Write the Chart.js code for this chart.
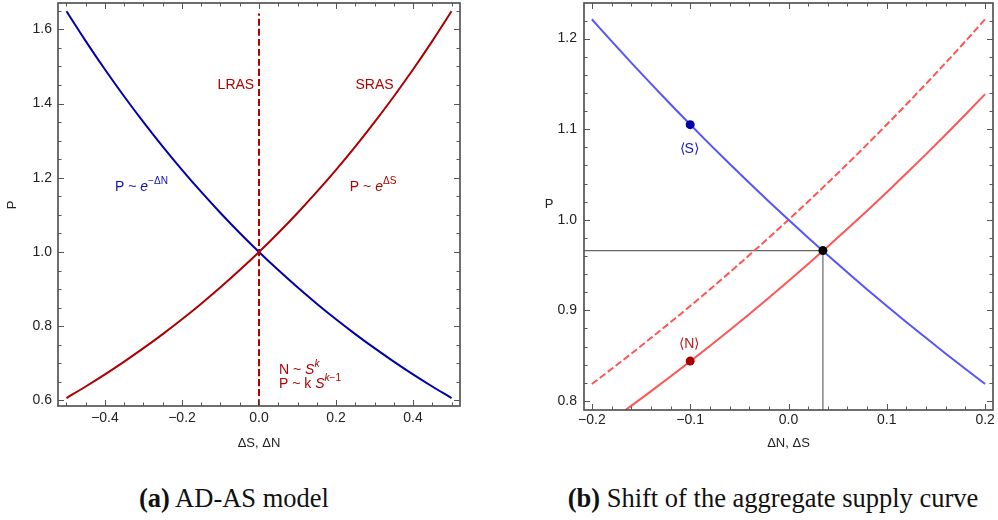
<!DOCTYPE html>
<html>
<head>
<meta charset="utf-8">
<script src="https://cdn.jsdelivr.net/npm/chart.js@4.4.1/dist/chart.umd.min.js"></script>
<style>
  body { margin: 0; background: #fff; width: 998px; height: 520px; overflow: hidden; position: relative; }
  .box { position: absolute; }
  .cap { position: absolute; font-family: "Liberation Serif", "Times New Roman", serif; font-size: 26.5px; line-height: 26px;
         white-space: nowrap; transform: translateX(-50%); color: #111; }
</style>
</head>
<body>
<div class="box" style="left:0;top:0;width:480px;height:460px"><canvas id="chartA"></canvas></div>
<div class="box" style="left:500px;top:-2px;width:498px;height:462px"><canvas id="chartB"></canvas></div>
<div class="cap" style="left:234px;top:485px"><b>(a)</b> AD-AS model</div>
<div class="cap" style="left:773px;top:485px"><b>(b)</b> Shift of the aggregate supply curve</div>

<script>
// ---- panel (a): AD-AS model ----
const deltaA = [-0.5, -0.45, -0.4, -0.35, -0.3, -0.25, -0.2, -0.15, -0.1, -0.05, 0,
                0.05, 0.1, 0.15, 0.2, 0.25, 0.3, 0.35, 0.4, 0.45, 0.5];
const srasA = [0.6065, 0.6376, 0.6703, 0.7047, 0.7408, 0.7788, 0.8187, 0.8607, 0.9048, 0.9512, 1.0,
               1.0513, 1.1052, 1.1618, 1.2214, 1.2840, 1.3499, 1.4191, 1.4918, 1.5683, 1.6487];
const adA = [1.6487, 1.5683, 1.4918, 1.4191, 1.3499, 1.2840, 1.2214, 1.1618, 1.1052, 1.0513, 1.0,
             0.9512, 0.9048, 0.8607, 0.8187, 0.7788, 0.7408, 0.7047, 0.6703, 0.6376, 0.6065];
const lrasX = [0, 0];
const lrasP = [0.585, 1.643];
const xTicksA = [-0.4, -0.2, 0, 0.2, 0.4];
const yTicksA = [0.6, 0.8, 1.0, 1.2, 1.4, 1.6];

// ---- panel (b): shift of the aggregate supply curve ----
const deltaB = [-0.2, -0.18, -0.16, -0.14, -0.12, -0.1, -0.08, -0.06, -0.04, -0.02, 0,
                0.02, 0.04, 0.06, 0.08, 0.1, 0.12, 0.14, 0.16, 0.18, 0.2];
const demandB = [1.2214, 1.1972, 1.1735, 1.1503, 1.1275, 1.1052, 1.0833, 1.0618, 1.0408, 1.0202, 1.0,
                 0.9802, 0.9608, 0.9418, 0.9231, 0.9048, 0.8869, 0.8694, 0.8521, 0.8353, 0.8187];
const supplyOldB = [0.8187, 0.8353, 0.8521, 0.8694, 0.8869, 0.9048, 0.9231, 0.9418, 0.9608, 0.9802, 1.0,
                    1.0202, 1.0408, 1.0618, 1.0833, 1.1052, 1.1275, 1.1503, 1.1735, 1.1972, 1.2214];
const supplyNewB = [0.7634, 0.7788, 0.7945, 0.8106, 0.8270, 0.8437, 0.8607, 0.8781, 0.8958, 0.9139, 0.9324,
                    0.9512, 0.9704, 0.9900, 1.0101, 1.0305, 1.0513, 1.0725, 1.0942, 1.1163, 1.1388];
const markX = [-0.1, -0.1, 0.035];
const markP = [1.105, 0.844, 0.966];
const xTicksB = [-0.2, -0.1, 0, 0.1, 0.2];
const yTicksB = [0.8, 0.9, 1.0, 1.1, 1.2];

const DRED = '#ab0000', DBLUE = '#0000ab';
const LRED = '#ff5555', LBLUE = '#5555ff';
const FRAME_COLOR = '#555555';
const FONT = '"Liberation Sans", Arial, sans-serif';

Chart.defaults.font.family = FONT;
Chart.defaults.color = '#222';

const xy = (xs, ys) => xs.map((x, i) => ({ x: x, y: ys[i] }));
const fmt = v => (v < -1e-9 ? '\u2212' : '') + Math.abs(v).toFixed(1);

// size is the fixed axis box size (height for x, width for y)
function axis(min, max, ticks, pad, size) {
    return {
        type: 'linear', min: min, max: max,
        grid: { display: false, drawTicks: false },
        border: { display: false },
        afterBuildTicks: s => { s.ticks = ticks.map(v => ({ value: v })); },
        afterFit: s => {
            if (s.isHorizontal()) s.height = size; else s.width = size;
            s.paddingTop = s.paddingBottom = s.paddingLeft = s.paddingRight = 0;
        },
        ticks: { padding: pad, autoSkip: false, maxRotation: 0, font: { size: 14 }, callback: v => fmt(v) }
    };
}

// text with italic / superscript pieces
function drawRich(ctx, x, y, parts, size, align, color) {
    const fontOf = f => (f.includes('i') ? 'italic ' : '') + (f.includes('s') ? size * 0.72 : size) + 'px ' + FONT;
    let w = 0;
    parts.forEach(p => { ctx.font = fontOf(p[1] || ''); w += ctx.measureText(p[0]).width; });
    let cx = align === 'center' ? x - w / 2 : x;
    ctx.fillStyle = color;
    ctx.textAlign = 'left';
    ctx.textBaseline = 'middle';
    parts.forEach(p => {
        const f = p[1] || '';
        ctx.font = fontOf(f);
        ctx.fillText(p[0], cx, f.includes('s') ? y - size * 0.42 : y);
        cx += ctx.measureText(p[0]).width;
    });
}

// Mathematica-like frame with inward ticks on all four sides, plus labels
function framePlugin(cfg) {
    return {
        id: 'mmaFrame',
        afterDraw(chart) {
            const ctx = chart.ctx, a = chart.chartArea;
            const sx = chart.scales.x, sy = chart.scales.y;
            const L = Math.round(a.left), R = Math.round(a.right);
            const T = Math.round(a.top), B = Math.round(a.bottom);
            ctx.save();
            ctx.strokeStyle = FRAME_COLOR;
            ctx.setLineDash([]);
            ctx.lineWidth = 1.7;
            ctx.strokeRect(L, T, R - L, B - T);

            ctx.lineWidth = 1;
            ctx.beginPath();
            const isMajor = (v, list) => list.some(m => Math.abs(m - v) < 1e-6);
            const nx = Math.round((sx.max - sx.min) / cfg.minorX) + 2;
            for (let i = -1; i < nx; i++) {
                const v = Math.ceil(sx.min / cfg.minorX - 1e-6) * cfg.minorX + i * cfg.minorX;
                if (v < sx.min || v > sx.max) continue;
                const px = Math.round(sx.getPixelForValue(v)) + 0.5;
                const len = isMajor(v, cfg.xTicks) ? 6 : 3.5;
                ctx.moveTo(px, B); ctx.lineTo(px, B - len);
                ctx.moveTo(px, T); ctx.lineTo(px, T + len);
            }
            const ny = Math.round((sy.max - sy.min) / cfg.minorY) + 2;
            for (let i = -1; i < ny; i++) {
                const v = Math.ceil(sy.min / cfg.minorY - 1e-6) * cfg.minorY + i * cfg.minorY;
                if (v < sy.min || v > sy.max) continue;
                const py = Math.round(sy.getPixelForValue(v)) + 0.5;
                const len = isMajor(v, cfg.yTicks) ? 6 : 3.5;
                ctx.moveTo(L, py); ctx.lineTo(L + len, py);
                ctx.moveTo(R, py); ctx.lineTo(R - len, py);
            }
            ctx.stroke();

            cfg.labels.forEach(l => {
                drawRich(ctx, sx.getPixelForValue(l.x), sy.getPixelForValue(l.y), l.parts, 14, l.align, l.color);
            });

            // axis titles
            ctx.font = '13px ' + FONT;
            ctx.fillStyle = '#222';
            ctx.textAlign = 'center';
            ctx.textBaseline = 'middle';
            ctx.fillText(cfg.xTitle, (a.left + a.right) / 2, a.bottom + cfg.xTitleOff);
            ctx.translate(a.left - cfg.yTitleOff, cfg.yTitleY);
            if (cfg.rotateY) ctx.rotate(-Math.PI / 2);
            ctx.fillText('P', 0, 0);
            ctx.restore();
        }
    };
}

const baseOpts = {
    responsive: true, maintainAspectRatio: false, animation: false,
    plugins: { legend: { display: false }, tooltip: { enabled: false } },
    elements: { point: { radius: 0 }, line: { cubicInterpolationMode: 'monotone' } }
};

new Chart(document.getElementById('chartA'), {
    type: 'scatter',
    data: {
        datasets: [
            { data: xy(lrasX, lrasP), showLine: true, borderColor: '#b00000', borderWidth: 2, borderDash: [7, 3] },
            { data: xy(deltaA, adA), showLine: true, borderColor: DBLUE, borderWidth: 2 },
            { data: xy(deltaA, srasA), showLine: true, borderColor: DRED, borderWidth: 2 }
        ]
    },
    options: Object.assign({}, baseOpts, {
        layout: { padding: { left: 0, right: 20, top: 3, bottom: 0 } },
        scales: {
            x: axis(-0.522, 0.522, xTicksA, 4, 54),
            y: axis(0.585, 1.671, yTicksA, 6, 58)
        }
    }),
    plugins: [framePlugin({
        minorX: 0.05, minorY: 0.05, xTicks: xTicksA, yTicks: yTicksA,
        xTitle: '\u0394S, \u0394N', xTitleOff: 37, yTitleOff: 46, yTitleY: 205, rotateY: true,
        labels: [
            { x: -0.06, y: 1.45, align: 'center', color: '#b00000', parts: [['LRAS']] },
            { x: 0.30, y: 1.45, align: 'center', color: '#b00000', parts: [['SRAS']] },
            { x: -0.374, y: 1.1745, align: 'left', color: '#1010b0', parts: [['P ~ '], ['e', 'i'], ['\u2212\u0394N', 's']] },
            { x: 0.236, y: 1.1745, align: 'left', color: '#b00000', parts: [['P ~ '], ['e', 'i'], ['\u0394S', 's']] },
            { x: 0.052, y: 0.682, align: 'left', color: '#b00000', parts: [['N ~ '], ['S', 'i'], ['k', 'si']] },
            { x: 0.052, y: 0.645, align: 'left', color: '#b00000', parts: [['P ~ k '], ['S', 'i'], ['k', 'si'], ['\u22121', 's']] }
        ]
    })]
});

const xMinB = -0.208, yMinB = 0.79;
new Chart(document.getElementById('chartB'), {
    type: 'scatter',
    data: {
        datasets: [
            { data: xy(markX, markP), showLine: false, pointRadius: 4.5, borderWidth: 0,
              pointBackgroundColor: [DBLUE, DRED, '#000'], pointBorderColor: [DBLUE, DRED, '#000'] },
            { data: xy(deltaB, demandB), showLine: true, borderColor: LBLUE, borderWidth: 2 },
            { data: xy(deltaB, supplyNewB), showLine: true, borderColor: LRED, borderWidth: 2 },
            { data: xy(deltaB, supplyOldB), showLine: true, borderColor: LRED, borderWidth: 2, borderDash: [7, 3] },
            { data: xy([markX[2], markX[2]], [markP[2], yMinB]), showLine: true, borderColor: '#666', borderWidth: 1.2 },
            { data: xy([xMinB, markX[2]], [markP[2], markP[2]]), showLine: true, borderColor: '#666', borderWidth: 1.2 }
        ]
    },
    options: Object.assign({}, baseOpts, {
        layout: { padding: { left: 0, right: 5, top: 0, bottom: 0 } },
        scales: {
            x: axis(xMinB, 0.208, xTicksB, 2, 50),
            y: axis(yMinB, 1.2399, yTicksB, 7, 84)
        }
    }),
    plugins: [framePlugin({
        minorX: 0.02, minorY: 0.02, xTicks: xTicksB, yTicks: yTicksB,
        xTitle: '\u0394N, \u0394S', xTitleOff: 33, yTitleOff: 35, yTitleY: 206, rotateY: false,
        labels: [
            { x: -0.101, y: 1.078, align: 'center', color: '#1a1ab0', parts: [['\u27E8S\u27E9']] },
            { x: -0.101, y: 0.8625, align: 'center', color: '#b01a1a', parts: [['\u27E8N\u27E9']] }
        ]
    })]
});
</script>
</body>
</html>
